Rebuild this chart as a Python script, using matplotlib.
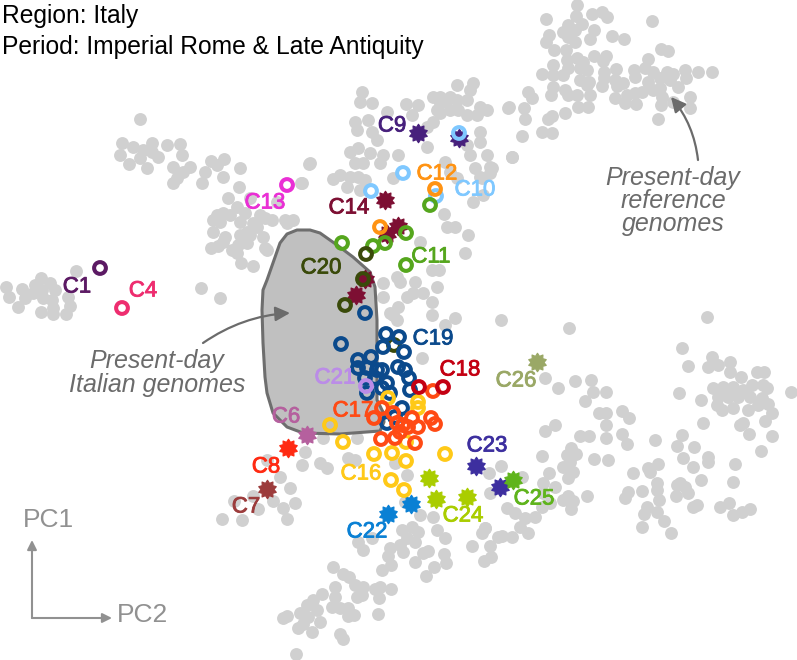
#!/usr/bin/env python3
"""PCA de genomas antiguos: Italia, Roma imperial y antiguedad tardia."""

import matplotlib

matplotlib.use("Agg")
import matplotlib.patheffects as pe
import matplotlib.pyplot as plt
from matplotlib.patches import FancyArrowPatch, Polygon
from matplotlib.path import Path

plt.rcParams["font.family"] = ["Liberation Sans", "DejaVu Sans"]

# Nube gris de referencia, por zonas (coordenadas PC)
grey_left = [(76, 271), (6, 287), (9, 297), (22, 289), (18, 307), (25, 298), (35, 285), (41, 278), (50, 283),
             (42, 290), (43, 298), (55, 290), (52, 300), (53, 308), (41, 312), (53, 314), (66, 314), (70, 306),
             (68, 297), (33, 293), (201, 288), (220, 298)]
grey_ridge = [(140, 119), (122, 143), (133, 147), (152, 143), (167, 145), (180, 144), (120, 155), (129, 164),
              (140, 158), (147, 168), (152, 152), (158, 157), (143, 150), (173, 167), (182, 155), (190, 167),
              (183, 172), (177, 178), (173, 183), (211, 161), (224, 159), (217, 165), (205, 172), (202, 183),
              (223, 177), (240, 168), (239, 187), (309, 164), (301, 183), (228, 198)]
grey_c13 = [(217, 215), (213, 220), (213, 232), (223, 213), (237, 207), (250, 198), (245, 213), (253, 223),
            (265, 218), (272, 220), (285, 220), (293, 220), (287, 223), (247, 232), (257, 227), (263, 237),
            (265, 248), (267, 250), (225, 237), (223, 242), (218, 246), (211, 248), (238, 245), (247, 243),
            (237, 253), (241, 263), (253, 266), (277, 202), (220, 222), (230, 215), (240, 222), (250, 235),
            (240, 235), (260, 215), (232, 250)]
grey_top = [(362, 92), (360, 102), (372, 103), (387, 112), (406, 104), (412, 115), (418, 105), (355, 122),
            (357, 130), (368, 120), (372, 132), (377, 140), (427, 147), (350, 152), (358, 148), (355, 163),
            (363, 163), (370, 153), (383, 155), (398, 155), (380, 163), (310, 163), (333, 179), (340, 175),
            (350, 177), (358, 177), (347, 187), (365, 180), (360, 190), (302, 183), (393, 178), (440, 103),
            (447, 100), (457, 85), (473, 83), (470, 90), (433, 97), (440, 97), (450, 97), (457, 100), (467, 100),
            (480, 107), (487, 110), (508, 108), (458, 110), (467, 115), (477, 115), (437, 110), (440, 113),
            (450, 110), (433, 122), (427, 127), (467, 145), (470, 155), (445, 162), (450, 172), (487, 155),
            (475, 168), (490, 167), (492, 168), (480, 177), (512, 157), (473, 202), (457, 178), (480, 132),
            (480, 142), (482, 178), (483, 195), (490, 173)]
grey_mid = [(444, 214), (447, 227), (455, 227), (420, 242), (468, 235), (465, 253), (397, 277), (400, 282),
            (415, 282), (413, 293), (407, 297), (423, 293), (432, 302), (437, 287), (432, 315), (398, 307),
            (383, 283), (383, 297), (439, 270), (432, 270), (393, 315), (455, 318), (445, 325), (397, 320),
            (422, 358), (390, 313)]
grey_ref = [(577, 5), (546, 19), (576, 16), (592, 14), (602, 12), (607, 17), (652, 21), (582, 24), (568, 25),
            (563, 32), (575, 30), (594, 30), (549, 35), (546, 42), (568, 37), (575, 42), (590, 39), (612, 36),
            (624, 39), (554, 50), (566, 50), (661, 49), (668, 51), (594, 56), (606, 56), (603, 61), (567, 60),
            (577, 58), (583, 62), (648, 59), (553, 65), (568, 68), (580, 68), (587, 70), (542, 74), (553, 75),
            (563, 75), (580, 80), (589, 82), (604, 72), (616, 69), (634, 70), (645, 68), (653, 72), (667, 72),
            (673, 74), (685, 70), (698, 72), (712, 72), (686, 78), (604, 78), (615, 80), (623, 83), (602, 86),
            (617, 86), (635, 77), (648, 82), (660, 78), (670, 80), (678, 87), (553, 87), (551, 95), (565, 90),
            (577, 95), (587, 85), (590, 95), (568, 95), (615, 98), (625, 103), (627, 95), (636, 104), (635, 93),
            (642, 92), (653, 90), (660, 88), (661, 105), (662, 97), (673, 102), (690, 97), (690, 108), (658, 119),
            (578, 107), (588, 107), (528, 92), (532, 98), (509, 107), (524, 108), (525, 119), (552, 116),
            (548, 119), (565, 113), (542, 132), (552, 133), (522, 136), (512, 157)]
grey_right = [(501, 320), (569, 328), (707, 317), (682, 348), (688, 366), (679, 393), (701, 400), (703, 423),
              (791, 392), (712, 357), (708, 367), (718, 365), (730, 362), (730, 372), (741, 377), (757, 372),
              (764, 372), (713, 388), (723, 387), (733, 387), (743, 390), (752, 385), (763, 385), (767, 388),
              (718, 397), (728, 397), (738, 397), (750, 397), (762, 398), (717, 405), (722, 410), (733, 408),
              (748, 410), (758, 405), (768, 404), (772, 413), (765, 421), (740, 425), (743, 423), (749, 434),
              (772, 436), (761, 451)]
grey_lower_right = [(545, 378), (558, 388), (575, 381), (591, 380), (593, 392), (606, 392), (585, 401), (599, 413),
                    (606, 413), (622, 411), (629, 418), (606, 425), (555, 425), (545, 431), (580, 436), (589, 436),
                    (606, 438), (622, 434), (627, 444), (655, 440), (682, 435), (677, 446), (694, 447), (683, 458),
                    (708, 457), (708, 462), (693, 467), (735, 464), (733, 482), (701, 480), (658, 464), (648, 468),
                    (650, 472), (633, 473), (680, 483), (677, 485), (685, 487), (688, 493), (676, 496), (697, 505),
                    (693, 507), (657, 483), (657, 490), (642, 491), (628, 492), (625, 498), (659, 500), (647, 507),
                    (657, 512), (644, 514), (664, 521), (642, 527), (671, 533), (720, 507), (729, 503), (733, 515),
                    (742, 512), (750, 509)]
grey_centre = [(542, 456), (571, 448), (567, 455), (576, 454), (570, 462), (563, 467), (573, 472), (568, 478),
               (594, 459), (608, 460), (549, 473), (543, 483), (555, 487), (543, 493), (587, 496), (568, 496),
               (573, 501), (563, 500), (571, 509), (501, 466), (489, 473), (522, 477), (490, 493), (507, 508),
               (515, 513), (525, 518), (535, 517), (520, 527), (528, 533), (502, 536), (512, 537), (485, 528),
               (542, 507), (550, 503)]
grey_bottom = [(280, 477), (290, 488), (295, 503), (283, 508), (287, 519), (273, 501), (258, 509), (253, 496),
               (234, 501), (242, 520), (222, 519), (323, 438), (305, 452), (302, 465), (320, 463), (327, 468),
               (348, 458), (355, 460), (395, 463), (357, 438), (267, 460), (407, 475), (405, 502), (420, 515),
               (433, 517), (437, 530), (445, 538), (485, 528), (482, 533), (472, 546), (490, 546), (498, 537),
               (484, 561), (491, 557), (402, 530), (412, 527), (418, 532), (407, 538), (415, 542), (363, 550),
               (358, 542), (372, 538), (390, 548), (400, 545), (403, 552), (388, 556), (391, 565), (382, 570),
               (415, 562), (423, 553), (428, 551), (444, 554), (446, 563), (434, 567), (426, 576), (333, 567),
               (343, 574), (349, 577), (355, 585), (363, 587), (335, 587), (322, 594), (335, 597), (357, 597),
               (362, 595), (380, 587), (375, 589), (391, 589), (379, 598), (378, 614), (313, 600), (307, 605),
               (300, 613), (317, 610), (332, 607), (340, 608), (348, 608), (348, 616), (354, 615), (287, 616),
               (283, 618), (320, 622), (308, 617), (303, 624), (298, 628), (312, 632), (340, 634), (343, 639),
               (296, 654)]

grey_zones = [grey_left, grey_ridge, grey_c13, grey_top, grey_mid, grey_ref, grey_right, grey_lower_right,
              grey_centre, grey_bottom]

# Contorno de los genomas italianos actuales
italy_outline = [(297, 230), (310, 230), (320, 233), (337, 245), (353, 257), (370, 272), (375, 287), (377, 320),
                 (377, 400), (383, 412), (384, 422), (380, 431), (340, 434), (303, 433), (287, 427), (273, 413),
                 (267, 393), (265, 377), (263, 343), (262, 310), (263, 290), (267, 280), (280, 243), (287, 234)]

# Grupos: (nombre, forma, puntos), en orden de dibujo
c14 = [(385, 200), (398, 226), (387, 234), (365, 279), (356, 295)]
c9 = [(418, 133), (459, 138)]
c22 = [(388, 514), (411, 504)]
c24 = [(429, 478), (436, 499), (467, 497)]
c23 = [(476, 466), (500, 487)]
c25 = [(513, 480)]
c26 = [(537, 362)]
c6 = [(307, 435)]
c8 = [(288, 448)]
c7 = [(267, 489)]
c1 = [(100, 268)]
c4 = [(122, 308)]
c13 = [(287, 185)]
c10 = [(459, 133), (403, 173), (371, 191), (436, 196)]
c12 = [(435, 189), (380, 227)]
c11 = [(430, 205), (342, 243), (373, 246), (385, 243), (406, 233), (406, 265)]
c20 = [(366, 254), (363, 279), (345, 305), (394, 345)]
c19 = [(365, 313), (341, 344), (386, 334), (399, 337), (383, 347), (404, 352), (358, 360), (371, 357), (358, 368),
       (367, 368), (377, 370), (382, 370), (398, 367), (405, 370), (409, 378), (365, 378), (375, 378), (387, 383),
       (382, 388), (390, 393), (367, 393), (410, 390), (402, 408), (395, 417), (387, 423)]
c21 = [(366, 386)]
c16 = [(388, 398), (418, 402), (418, 408), (330, 425), (343, 442), (374, 454), (392, 453), (406, 442), (406, 461),
       (445, 454), (391, 480), (404, 490)]
c17 = [(433, 391), (382, 408), (374, 418), (393, 413), (397, 423), (403, 425), (412, 418), (400, 432), (408, 427),
       (418, 427), (431, 418), (435, 424), (381, 439), (395, 438), (415, 443)]
c18 = [(419, 387), (443, 387)]

star_groups = [(c14, "#7d0f33"), (c9, "#47207c"), (c22, "#0a80d4"), (c24, "#aacd00"), (c23, "#3d2f9f"),
               (c25, "#5fb41c"), (c26, "#9aa866"), (c6, "#b5609e"), (c8, "#ff2a12"), (c7, "#9c3c3c")]
ring_groups = [(c1, "#5c1a64"), (c4, "#ee2d6f"), (c13, "#ea2fd5"), (c10, "#7fc8ff"), (c12, "#ff9313"),
               (c11, "#55a61d"), (c20, "#3a4a0a"), (c19, "#0b4a8c"), (c21, "#bb8ce8"), (c16, "#ffc918"),
               (c17, "#ff4a14"), (c18, "#c40012")]

cluster_labels = [("C1", 77, 287, "#5c1a64"), ("C4", 143, 291, "#ee2d6f"), ("C13", 265, 203, "#ea2fd5"),
                  ("C9", 392, 126, "#47207c"), ("C14", 349, 208, "#7d0f33"), ("C12", 437, 174, "#ff9313"),
                  ("C10", 475, 190, "#7fc8ff"), ("C11", 431, 257, "#55a61d"), ("C20", 321, 268, "#3a4a0a"),
                  ("C19", 433, 339, "#0b4a8c"), ("C18", 460, 370, "#c40012"), ("C26", 516, 381, "#9aa866"),
                  ("C21", 335, 378, "#bb8ce8"), ("C17", 353, 411, "#ff4a14"), ("C6", 286, 417, "#b5609e"),
                  ("C8", 266, 467, "#ff2a12"), ("C7", 246, 507, "#9c3c3c"), ("C16", 361, 474, "#ffc918"),
                  ("C23", 487, 446, "#3d2f9f"), ("C25", 534, 499, "#5fb41c"), ("C24", 463, 516, "#aacd00"),
                  ("C22", 367, 532, "#0a80d4")]

DOT = "#d0d0d0"
ANNOT = "#6b6b6b"
AXIS = "#919191"

fig = plt.figure(figsize=(7.97, 6.60), dpi=100)
ax = fig.add_axes([0, 0, 1, 1])
ax.set_xlim(0, 797)
ax.set_ylim(660, 0)
ax.axis("off")

for zone in grey_zones:
    ax.scatter(*zip(*zone), s=86, color=DOT, linewidths=0, zorder=1)

ax.add_patch(Polygon(italy_outline, closed=True, facecolor="#c0c0c0", edgecolor="#6e6e6e", linewidth=2.2,
                     joinstyle="round", zorder=2))

star = Path.unit_regular_star(10, innerCircle=0.7)
z = 3
for pts, color in star_groups:
    ax.scatter(*zip(*pts), s=175, marker=star, color=color, edgecolors=color, linewidths=0.9, zorder=z)
    z += 0.01
for pts, color in ring_groups:
    ax.scatter(*zip(*pts), s=72, facecolors="none", edgecolors=color, linewidths=2.9, zorder=z)
    z += 0.01

for name, x, y, color in cluster_labels:
    ax.text(x, y, name, color=color, fontsize=16, ha="center", va="center", zorder=5,
            path_effects=[pe.withStroke(linewidth=0.6, foreground=color)])

ax.text(2, 23, "Region: Italy", fontsize=17.7, color="black", va="baseline")
ax.text(2, 54, "Period: Imperial Rome & Late Antiquity", fontsize=17.7, color="black", va="baseline")

ax.text(157, 373, "Present-day\nItalian genomes", fontsize=18, style="italic", color=ANNOT, ha="center",
        va="center", linespacing=0.95)
ax.text(673, 201, "Present-day\nreference\ngenomes", fontsize=18, style="italic", color=ANNOT, ha="center",
        va="center", linespacing=0.95)

ax.add_patch(FancyArrowPatch((203, 343), (290, 313), connectionstyle="arc3,rad=-0.14", arrowstyle="-|>",
                             mutation_scale=22, color=ANNOT, linewidth=1.6, shrinkA=0, shrinkB=0, zorder=4))
ax.add_patch(FancyArrowPatch((698, 160), (671, 97), connectionstyle="arc3,rad=0.15", arrowstyle="-|>",
                             mutation_scale=22, color=ANNOT, linewidth=1.6, shrinkA=0, shrinkB=0, zorder=4))

ax.add_patch(FancyArrowPatch((32, 618), (32, 540), arrowstyle="-|>", mutation_scale=14, color=AXIS, linewidth=1.5,
                             shrinkA=0, shrinkB=0))
ax.add_patch(FancyArrowPatch((32, 618), (112, 618), arrowstyle="-|>", mutation_scale=14, color=AXIS, linewidth=1.5,
                             shrinkA=0, shrinkB=0))
ax.text(48, 520, "PC1", fontsize=19, color=AXIS, ha="center", va="center")
ax.text(143, 615, "PC2", fontsize=19, color=AXIS, ha="center", va="center")

fig.savefig("out.png", dpi=100)
plt.close(fig)
